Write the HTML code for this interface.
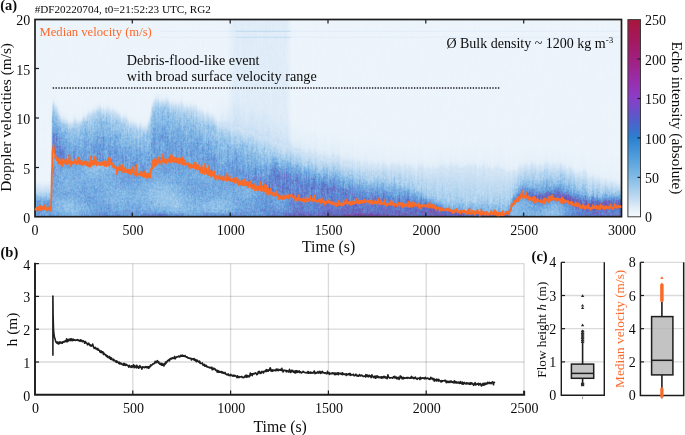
<!DOCTYPE html>
<html><head><meta charset="utf-8"><style>
html,body{margin:0;padding:0;background:#fff;width:685px;height:435px;overflow:hidden}
#sp{position:absolute;left:35px;top:19px;width:587px;height:198px;background:linear-gradient(to bottom,#ecf4fb 0%,#e4eef9 42%,#b4d2ef 66%,#86b2e6 82%,#6e96dc 100%)}
svg{position:absolute;left:0;top:0}
text{font-family:"Liberation Serif",serif}
</style></head><body>
<canvas id="sp" width="587" height="198"></canvas>
<svg width="685" height="435" viewBox="0 0 685 435">
<rect x="35" y="19.5" width="586.5" height="197.2" fill="none" stroke="#1c1c1c" stroke-width="1.7"/>
<line x1="132.3" y1="216.5" x2="132.3" y2="212.5" stroke="#1c1c1c" stroke-width="1.2"/>
<line x1="132.3" y1="19.5" x2="132.3" y2="23.5" stroke="#1c1c1c" stroke-width="1.2"/>
<line x1="230.2" y1="216.5" x2="230.2" y2="212.5" stroke="#1c1c1c" stroke-width="1.2"/>
<line x1="230.2" y1="19.5" x2="230.2" y2="23.5" stroke="#1c1c1c" stroke-width="1.2"/>
<line x1="328" y1="216.5" x2="328" y2="212.5" stroke="#1c1c1c" stroke-width="1.2"/>
<line x1="328" y1="19.5" x2="328" y2="23.5" stroke="#1c1c1c" stroke-width="1.2"/>
<line x1="425.8" y1="216.5" x2="425.8" y2="212.5" stroke="#1c1c1c" stroke-width="1.2"/>
<line x1="425.8" y1="19.5" x2="425.8" y2="23.5" stroke="#1c1c1c" stroke-width="1.2"/>
<line x1="523.7" y1="216.5" x2="523.7" y2="212.5" stroke="#1c1c1c" stroke-width="1.2"/>
<line x1="523.7" y1="19.5" x2="523.7" y2="23.5" stroke="#1c1c1c" stroke-width="1.2"/>
<line x1="35" y1="167.5" x2="39" y2="167.5" stroke="#1c1c1c" stroke-width="1.2"/>
<line x1="35" y1="118" x2="39" y2="118" stroke="#1c1c1c" stroke-width="1.2"/>
<line x1="35" y1="68.5" x2="39" y2="68.5" stroke="#1c1c1c" stroke-width="1.2"/>
<polyline points="35,209.2 35.4,209.6 35.7,208.9 36.1,208.1 36.4,208.6 36.8,208 37.1,209.3 37.5,210.9 37.8,208.6 38.2,206.6 38.5,209.8 38.9,209.6 39.2,209.3 39.6,208 39.9,205.6 40.3,210.1 40.6,207.5 41,208.6 41.3,206.8 41.7,207.6 42,206.9 42.4,208.9 42.7,207.6 43.1,209.5 43.4,209.4 43.8,209 44.1,206.1 44.5,208.5 44.8,209.1 45.2,204.7 45.5,207.3 45.9,208.6 46.2,208 46.6,208.2 46.9,210.5 47.3,208.2 47.6,209.2 48,207.3 48.3,208.5 48.7,208.9 49,209.3 49.4,209.3 49.7,207.7 50.1,209.3 50.4,210.9 50.8,207.3 51.1,206.3 51.5,192.1 51.8,173.4 52.2,167.3 52.5,151.8 52.9,148.1 53.2,148.5 53.6,145.2 53.9,150.6 54.3,151 54.6,153.4 55,155.8 55.3,158.1 55.7,155.9 56,158.3 56.4,158.3 56.7,160.3 57.1,159.2 57.4,160.3 57.8,161.1 58.1,163 58.5,163.5 58.8,159.9 59.2,157.8 59.5,163.3 59.9,159.4 60.2,161.9 60.6,162.4 60.9,164.5 61.3,163.7 61.6,162.1 62,159 62.3,161.6 62.7,166.2 63,161.9 63.4,162.1 63.7,163.1 64.1,162.4 64.4,162.3 64.8,160.9 65.1,162.6 65.5,158.8 65.8,164.4 66.2,163.6 66.5,159.5 66.9,163.6 67.2,162.1 67.6,164.2 67.9,162.6 68.3,163.5 68.6,160.6 69,163.1 69.3,154.8 69.7,159.4 70,162.1 70.4,161.2 70.7,162.9 71.1,166.1 71.4,161.3 71.8,161.6 72.1,162.9 72.5,163.4 72.8,162.3 73.2,162.3 73.5,163.7 73.9,163.4 74.2,159.9 74.6,162.5 74.9,162.7 75.3,161 75.6,163 76,161.3 76.3,164.2 76.7,163 77,162.8 77.4,161.8 77.7,157.4 78.1,159.6 78.4,161 78.8,163.3 79.1,157.8 79.5,164.1 79.8,160.1 80.2,164 80.5,161.5 80.9,164 81.2,163 81.6,160.5 81.9,164.8 82.3,165.1 82.6,162.8 83,162.5 83.3,162.7 83.7,161.4 84,164.6 84.4,162.1 84.7,162.9 85.1,161.7 85.4,162 85.8,161 86.1,165.1 86.5,163.7 86.8,162.9 87.2,165.3 87.5,164.9 87.9,162 88.2,165.9 88.6,166.4 88.9,164.5 89.3,165.1 89.6,163 90,163.5 90.3,166.9 90.7,162.9 91,156.2 91.4,164 91.7,165.7 92.1,161.2 92.4,163.2 92.8,162.5 93.1,160.8 93.5,164.6 93.8,163.5 94.2,163.6 94.5,156.6 94.9,164.2 95.2,162.7 95.6,157.5 95.9,161.8 96.3,163.7 96.6,165.6 97,162.7 97.3,164 97.7,163.4 98,162.8 98.4,162.7 98.7,164.5 99.1,163 99.4,163.3 99.8,163.5 100.1,165.3 100.5,164.6 100.8,164.1 101.2,162.6 101.5,161.4 101.9,165 102.2,165 102.6,163.3 102.9,164.3 103.3,164.7 103.6,160.9 104,164.9 104.3,162.8 104.7,165.8 105,161.6 105.4,164.8 105.7,164.3 106.1,164.9 106.4,166.4 106.8,165.8 107.1,161.7 107.5,160.9 107.8,164.8 108.2,157.9 108.5,163.5 108.9,165.7 109.2,161 109.6,160.2 109.9,163.9 110.3,163.8 110.6,158.5 111,164.5 111.3,163.5 111.7,162.9 112,165.3 112.4,164.4 112.7,163.8 113.1,167.3 113.4,166.7 113.8,167.6 114.1,165.7 114.5,166.5 114.8,166.2 115.2,166.6 115.5,168.5 115.9,167.2 116.2,169.2 116.6,169.4 116.9,174.2 117.3,167.1 117.6,169.5 118,168.5 118.3,169.4 118.7,167.3 119,170 119.4,170.8 119.7,164.7 120.1,169.9 120.4,169.4 120.8,170.1 121.1,169.9 121.5,167.5 121.8,169 122.2,167.1 122.5,165.2 122.9,169.5 123.2,172.4 123.6,170.1 123.9,168.7 124.3,169.1 124.6,171.8 125,170.9 125.3,167 125.7,171.4 126,171 126.4,172.2 126.7,171.9 127.1,171.5 127.4,169.6 127.8,172.1 128.1,170.3 128.5,173.1 128.8,169.5 129.2,171.4 129.5,171.6 129.9,169.7 130.2,174.5 130.6,174.1 130.9,171.2 131.3,173.2 131.6,169.5 132,168.1 132.3,168.1 132.7,172.2 133,172.5 133.4,165.9 133.7,172.1 134.1,172.3 134.4,174.5 134.8,173.3 135.1,172.8 135.5,175.3 135.8,172.2 136.2,172.6 136.5,164.9 136.9,175.9 137.2,175.1 137.6,175.1 137.9,174.9 138.3,174.1 138.6,174.4 139,173.8 139.3,174 139.7,174.5 140,171.6 140.4,175.5 140.7,174.7 141.1,174 141.4,174.1 141.8,172 142.1,176.1 142.5,175.5 142.8,175 143.2,173.9 143.5,175.7 143.9,177.3 144.2,175.4 144.6,175.8 144.9,171.3 145.3,176.5 145.6,173.9 146,173.8 146.3,173.7 146.7,177.9 147,175.4 147.4,177.5 147.7,173.6 148.1,173.7 148.4,175.8 148.8,177 149.1,176.2 149.5,174.1 149.8,175.8 150.2,177.7 150.5,173.6 150.9,169 151.2,168.9 151.6,169.2 151.9,165.7 152.3,165.3 152.6,168.4 153,160.3 153.3,166.9 153.7,167 154,160.3 154.4,164.3 154.7,166 155.1,158.5 155.4,158.2 155.8,160.7 156.1,162.8 156.5,165 156.8,164.1 157.2,161.1 157.5,161.1 157.9,158.6 158.2,162.8 158.6,157.3 158.9,160.2 159.3,162.6 159.6,161.6 160,161.9 160.3,162.3 160.7,161.8 161,161 161.4,164.7 161.7,157.2 162.1,161.7 162.4,159 162.8,157.1 163.1,154.2 163.5,159.2 163.8,162.7 164.2,162.4 164.5,161 164.9,159.3 165.2,160.6 165.6,161.1 165.9,162 166.3,163.5 166.6,161.3 167,159.7 167.3,159.1 167.7,160.8 168,160.6 168.4,159.1 168.7,161 169.1,159 169.4,162.5 169.8,162.2 170.1,162.5 170.5,155.7 170.8,161.5 171.2,160.5 171.5,154.4 171.9,160.1 172.2,158.6 172.6,156.8 172.9,161.8 173.3,160.3 173.6,160.9 174,162.1 174.3,157.9 174.7,159.3 175,160.8 175.4,157.4 175.7,159.9 176.1,162.3 176.4,161.1 176.8,158.9 177.1,159.4 177.5,162.2 177.8,161.7 178.2,158.1 178.5,163.2 178.9,162.1 179.2,163.3 179.6,160.7 179.9,160.9 180.3,158.6 180.6,161.1 181,159.1 181.3,164.2 181.7,162.8 182,162.5 182.4,159.9 182.7,157.3 183.1,164.6 183.4,161.4 183.8,165.2 184.1,164.3 184.5,162.5 184.8,160.2 185.2,163.8 185.5,164.5 185.9,163.9 186.2,163.5 186.6,164.4 186.9,163.4 187.3,163.1 187.6,165.1 188,166.6 188.3,163 188.7,165.4 189,164.5 189.4,164.1 189.7,167 190.1,165 190.4,168.2 190.8,164.7 191.1,166.6 191.5,165.8 191.8,165 192.2,167.2 192.5,166.1 192.9,167.4 193.2,165.7 193.6,165 193.9,166.6 194.3,162.8 194.6,168.4 195,165.6 195.3,167.1 195.7,162.4 196,168.4 196.4,165.9 196.7,164.9 197.1,167.8 197.4,169.8 197.8,165.8 198.1,165.6 198.5,165.3 198.8,166.9 199.2,169.4 199.5,167.7 199.9,168 200.2,172.6 200.6,168.3 200.9,170.3 201.3,168.2 201.6,165.1 202,167.2 202.3,173.1 202.7,169.9 203,170.9 203.4,170.6 203.7,171.1 204.1,171.1 204.4,174.1 204.8,169.7 205.1,163.7 205.5,170.1 205.8,169.8 206.2,168.6 206.5,173.5 206.9,170.9 207.2,170.5 207.6,172.3 207.9,174.8 208.3,168.8 208.6,174.2 209,165.9 209.3,175.4 209.7,172.3 210,170.4 210.4,172 210.7,173 211.1,176.9 211.4,176.2 211.8,170.8 212.1,174 212.5,172.6 212.8,173 213.2,175.8 213.5,175.9 213.9,176 214.2,174.6 214.6,171.4 214.9,178.3 215.3,178.8 215.6,179.9 216,176.9 216.3,176.1 216.7,177.4 217,176.7 217.4,176.6 217.7,177.9 218.1,176.5 218.4,176.5 218.8,178.3 219.1,179 219.5,174.9 219.8,177.8 220.2,177.5 220.5,178.7 220.9,178.3 221.2,179.5 221.6,179.2 221.9,177.1 222.3,179.4 222.6,177.2 223,178.4 223.3,180.4 223.7,176.2 224,179.6 224.4,179.8 224.7,179.3 225.1,179 225.4,179.1 225.8,178.2 226.1,179.3 226.5,177.5 226.8,181.1 227.2,173.4 227.5,179 227.9,180.2 228.2,179 228.6,180 228.9,177.4 229.3,177.6 229.6,175.9 230,180.6 230.3,180.7 230.7,180.9 231,179.4 231.4,180 231.7,179.7 232.1,181.2 232.4,180.9 232.8,179.2 233.1,181.7 233.5,180.9 233.8,181.7 234.2,181.5 234.5,178.9 234.9,182.8 235.2,177.6 235.6,177.7 235.9,177.7 236.3,179.5 236.6,179.9 237,181 237.3,183.3 237.7,181.7 238,179.6 238.4,185.2 238.7,185 239.1,182.5 239.4,182.4 239.8,180.9 240.1,181.9 240.5,183.8 240.8,183.8 241.2,183.5 241.5,185 241.9,182.3 242.2,180.3 242.6,184.9 242.9,184.8 243.3,185.6 243.6,184.7 244,183.1 244.3,184.8 244.7,179.7 245,182 245.4,185.5 245.7,184.6 246.1,185.3 246.4,182.2 246.8,184.4 247.1,184.1 247.5,183.8 247.8,181.8 248.2,184.8 248.5,187.4 248.9,184.5 249.2,184.7 249.6,184.5 249.9,181.1 250.3,181.6 250.6,185.8 251,186.9 251.3,186.7 251.7,188.9 252,188.1 252.4,184.9 252.7,187 253.1,187.9 253.4,186 253.8,186.9 254.1,188.4 254.5,190.1 254.8,187 255.2,183.7 255.5,187.8 255.9,187.3 256.2,187.6 256.6,190 256.9,186.5 257.3,187.8 257.6,187.9 258,189.5 258.3,190 258.7,186.3 259,187.3 259.4,189.3 259.7,187.9 260.1,181.9 260.4,190.6 260.8,190 261.1,190.1 261.5,187.5 261.8,191.1 262.2,187.1 262.5,186.3 262.9,188.6 263.2,188.8 263.6,190.5 263.9,189.3 264.3,191.5 264.6,191 265,184.2 265.3,191 265.7,190.6 266,192.5 266.4,185.5 266.7,190.9 267.1,193.4 267.4,194.9 267.8,194.7 268.1,190 268.5,188.6 268.8,194.5 269.2,192.4 269.5,191.4 269.9,193 270.2,193.6 270.6,188.7 270.9,191 271.3,191.5 271.6,194.5 272,192.7 272.3,193.8 272.7,194.3 273,195 273.4,193.9 273.7,195.1 274.1,193.4 274.4,194.2 274.8,193.4 275.1,196.4 275.5,194 275.8,194.1 276.2,194.8 276.5,195 276.9,191.4 277.2,193.4 277.6,194.3 277.9,195.3 278.3,199.1 278.6,197.2 279,195.9 279.3,197.1 279.7,198.9 280,196.1 280.4,196 280.7,198.2 281.1,197.3 281.4,197.7 281.8,196.3 282.1,199.5 282.5,199.3 282.8,198 283.2,198.2 283.5,194.9 283.9,198.4 284.2,197.4 284.6,198.2 284.9,198.5 285.3,197.1 285.6,195.4 286,197.9 286.3,196.5 286.7,197 287,196.6 287.4,197.4 287.7,194.4 288.1,195.6 288.4,197.4 288.8,198.4 289.1,198.3 289.5,197 289.8,194.8 290.2,195.8 290.5,195.4 290.9,196.2 291.2,195.8 291.6,194.4 291.9,197.4 292.3,195.3 292.6,197 293,197.3 293.3,197.2 293.7,197.6 294,197.2 294.4,197.3 294.7,196.2 295.1,199 295.4,200.5 295.8,200.8 296.1,200.2 296.5,199.6 296.8,198.2 297.2,200.8 297.5,199.2 297.9,199.3 298.2,195.1 298.6,199.8 298.9,199.4 299.3,199.3 299.6,198.9 300,199.9 300.3,198.9 300.7,200.2 301,200 301.4,200.9 301.7,200.3 302.1,199 302.4,200 302.8,201.2 303.1,199.1 303.5,200.3 303.8,201.9 304.2,199.5 304.5,200.3 304.9,199.6 305.2,201.8 305.6,197.2 305.9,199.4 306.3,199.6 306.6,200.8 307,200.8 307.3,201.6 307.7,198.5 308,200.9 308.4,199.8 308.7,199.4 309.1,200.6 309.4,199.1 309.8,197.9 310.1,195.8 310.5,198.5 310.8,199.4 311.2,200.4 311.5,200.3 311.9,201.6 312.2,199.8 312.6,198.5 312.9,199.4 313.3,199.3 313.6,199.1 314,200.8 314.3,199.4 314.7,195.3 315,201.2 315.4,200.5 315.7,201 316.1,200.8 316.4,201.4 316.8,200.9 317.1,202.1 317.5,201.4 317.8,201.4 318.2,201.5 318.5,199.8 318.9,201.1 319.2,201.1 319.6,201.6 319.9,200.2 320.3,203.1 320.6,201.7 321,200.6 321.3,199.1 321.7,198.1 322,201.8 322.4,201.3 322.7,202.1 323.1,201.5 323.4,200 323.8,201.6 324.1,202.3 324.5,203.3 324.8,204.8 325.2,201.5 325.5,202.1 325.9,201.8 326.2,203.3 326.6,201.6 326.9,202.3 327.3,201.8 327.6,200 328,201.9 328.3,202.4 328.7,200.4 329,201.6 329.4,202.6 329.7,203.2 330.1,202.9 330.4,201.5 330.8,202.8 331.1,204 331.5,203.8 331.8,201.8 332.2,202.6 332.5,204 332.9,202.9 333.2,202.4 333.6,202.8 333.9,205 334.3,203.9 334.6,204.8 335,203.3 335.3,204.7 335.7,203.3 336,203.7 336.4,206.2 336.7,204.7 337.1,203.5 337.4,203.9 337.8,204.2 338.1,205.4 338.5,200.9 338.8,202.2 339.2,203.5 339.5,203.8 339.9,203.8 340.2,204.9 340.6,203.9 340.9,204.4 341.3,202.6 341.6,204.4 342,205.5 342.3,204.2 342.7,203.7 343,203.6 343.4,205.1 343.7,200.4 344.1,203.2 344.4,203.7 344.8,204 345.1,202.8 345.5,203.5 345.8,201.9 346.2,203.2 346.5,199.6 346.9,202 347.2,203 347.6,203.8 347.9,202.1 348.3,202.7 348.6,203.5 349,201.9 349.3,203 349.7,201.4 350,203.9 350.4,204.9 350.7,204.7 351.1,202.5 351.4,202.2 351.8,204.2 352.1,203.6 352.5,204.1 352.8,201.4 353.2,203.6 353.5,202.5 353.9,203.9 354.2,202.7 354.6,201.9 354.9,202.7 355.3,203.1 355.6,202.4 356,202.8 356.3,200.5 356.7,198.9 357,201.2 357.4,202.9 357.7,202.4 358.1,202.3 358.4,203.2 358.8,201.8 359.1,200.3 359.5,202 359.8,203.2 360.2,200.8 360.5,203.2 360.9,201.4 361.2,201 361.6,202.2 361.9,201.9 362.3,200.7 362.6,201.6 363,202.7 363.3,203 363.7,201.4 364,199.3 364.4,202.4 364.7,201.1 365.1,201.1 365.4,201.7 365.8,201.2 366.1,201.2 366.5,201.7 366.8,201.6 367.2,201 367.5,201.1 367.9,202.5 368.2,200.5 368.6,200.6 368.9,202.7 369.3,202.2 369.6,202.9 370,201 370.3,202.6 370.7,201.6 371,201 371.4,203.6 371.7,200.2 372.1,200.9 372.4,202.7 372.8,203.8 373.1,201.8 373.5,202.2 373.8,202.8 374.2,203 374.5,202.4 374.9,201.9 375.2,200.4 375.6,203.2 375.9,201.7 376.3,203.6 376.6,202.5 377,202 377.3,203.2 377.7,201.1 378,202.1 378.4,198.5 378.7,201.7 379.1,202 379.4,204.1 379.8,203 380.1,204.2 380.5,201.6 380.8,200.3 381.2,203.9 381.5,204.4 381.9,203.2 382.2,203.3 382.6,203.4 382.9,203.7 383.3,202.8 383.6,203.9 384,203.4 384.3,204.3 384.7,200.1 385,204.3 385.4,204.3 385.7,203.6 386.1,206 386.4,204.5 386.8,205.8 387.1,205.1 387.5,203.7 387.8,204 388.2,204.8 388.5,204.5 388.9,204.5 389.2,204.2 389.6,202.8 389.9,204.3 390.3,202.5 390.6,204.9 391,203.9 391.3,200.5 391.7,204.4 392,204.9 392.4,202.4 392.7,203 393.1,203.7 393.4,202.8 393.8,203.8 394.1,206.2 394.5,203.8 394.8,205.4 395.2,203.5 395.5,205.1 395.9,204.5 396.2,204.8 396.6,205.4 396.9,206.5 397.3,204.4 397.6,205 398,204 398.3,202.6 398.7,203.6 399,204.9 399.4,204.9 399.7,206.3 400.1,203.2 400.4,204.7 400.8,203.6 401.1,204.7 401.5,204.3 401.8,202.5 402.2,203.8 402.5,205.2 402.9,207.4 403.2,206.2 403.6,204.1 403.9,204.4 404.3,204.8 404.6,206.1 405,204.5 405.3,204.6 405.7,206.1 406,206.1 406.4,204.9 406.7,204.3 407.1,203.9 407.4,204.7 407.8,203.3 408.1,206.1 408.5,201.6 408.8,205.8 409.2,207.2 409.5,206.5 409.9,204.4 410.2,206.3 410.6,206.6 410.9,202.7 411.3,204.6 411.6,205.4 412,204 412.3,206.9 412.7,203.3 413,203 413.4,201.8 413.7,205.4 414.1,206 414.4,205.9 414.8,203 415.1,203.2 415.5,203.7 415.8,205.7 416.2,205 416.5,205.8 416.9,205.9 417.2,204.8 417.6,205.1 417.9,204 418.3,203.5 418.6,205.1 419,207.6 419.3,205.4 419.7,204.4 420,206.1 420.4,208.1 420.7,206.5 421.1,206 421.4,205.6 421.8,204.9 422.1,205.7 422.5,205.3 422.8,206.6 423.2,205.5 423.5,205.5 423.9,204.8 424.2,205.9 424.6,205.1 424.9,205.8 425.3,206.9 425.6,206.3 426,206.4 426.3,206.3 426.7,205.1 427,206.5 427.4,205.5 427.7,206.7 428.1,205 428.4,207.3 428.8,206.1 429.1,205.4 429.5,202.3 429.8,205.5 430.2,206.3 430.5,205.6 430.9,207.4 431.2,205.7 431.6,204.5 431.9,206 432.3,204.9 432.6,206.8 433,208 433.3,207.7 433.7,206 434,206.6 434.4,205.5 434.7,207.8 435.1,207.6 435.4,208.7 435.8,210.1 436.1,207 436.5,208.2 436.8,208.5 437.2,208.3 437.5,207.8 437.9,207.5 438.2,208.6 438.6,207.8 438.9,208.7 439.3,209 439.6,211.2 440,207.8 440.3,209.1 440.7,209.1 441,208.2 441.4,210.5 441.7,209.2 442.1,209 442.4,208.3 442.8,209.1 443.1,210.5 443.5,208.8 443.8,209.3 444.2,210 444.5,210.4 444.9,210.1 445.2,209.9 445.6,209.9 445.9,209.1 446.3,209.5 446.6,209.7 447,208.6 447.3,210.3 447.7,210.9 448,210.4 448.4,210 448.7,210.7 449.1,207.9 449.4,210.8 449.8,209.1 450.1,210.8 450.5,210.1 450.8,210.5 451.2,211 451.5,211.6 451.9,211.9 452.2,210.7 452.6,212.8 452.9,212.3 453.3,212.3 453.6,212.6 454,210 454.3,212.4 454.7,212.1 455,210.1 455.4,211.6 455.7,211 456.1,210.1 456.4,209.9 456.8,208.8 457.1,209.4 457.5,212.5 457.8,212.6 458.2,211.6 458.5,211.6 458.9,211 459.2,212.2 459.6,211.6 459.9,212.5 460.3,213.6 460.6,212 461,210.6 461.3,211.3 461.7,210.7 462,211 462.4,211.9 462.7,212.4 463.1,210.8 463.4,212.9 463.8,210.4 464.1,212 464.5,210.4 464.8,212.1 465.2,212.7 465.5,213.1 465.9,214 466.2,213.7 466.6,212.6 466.9,211.2 467.3,213.3 467.6,211.3 468,212.7 468.3,213.1 468.7,209.5 469,213.7 469.4,212.6 469.7,208.9 470.1,214.3 470.4,213.6 470.8,213.2 471.1,213.9 471.5,214 471.8,212.7 472.2,210.7 472.5,212.4 472.9,212.6 473.2,212.1 473.6,213.2 473.9,214.1 474.3,212.6 474.6,211.3 475,214.9 475.3,212.6 475.7,211.9 476,211.6 476.4,213.4 476.7,212.4 477.1,210.3 477.4,212.6 477.8,210 478.1,213.2 478.5,211.5 478.8,212.5 479.2,212.2 479.5,213 479.9,215.6 480.2,212.4 480.6,214.4 480.9,213 481.3,209.4 481.6,213.8 482,213.9 482.3,214.3 482.7,213.6 483,211.9 483.4,212.6 483.7,213.6 484.1,213.6 484.4,214.4 484.8,213.5 485.1,212.1 485.5,214.6 485.8,213.4 486.2,211.8 486.5,212.1 486.9,211.9 487.2,214.8 487.6,212.5 487.9,214.5 488.3,213.9 488.6,214.9 489,214.3 489.3,213.3 489.7,213.2 490,213.5 490.4,213.6 490.7,213 491.1,211 491.4,215 491.8,211.9 492.1,213.8 492.5,212.7 492.8,213.8 493.2,214.4 493.5,213.6 493.9,211.4 494.2,212.2 494.6,214.7 494.9,210.2 495.3,214.3 495.6,213.9 496,211.4 496.3,213.1 496.7,214 497,215.3 497.4,214.1 497.7,214.1 498.1,212.6 498.4,213.8 498.8,215.6 499.1,213 499.5,213.7 499.8,212.5 500.2,214.8 500.5,213 500.9,214.7 501.2,215.2 501.6,214.6 501.9,213.2 502.3,215.3 502.6,211 503,213.9 503.3,214.4 503.7,215 504,214.6 504.4,214.6 504.7,213.5 505.1,213.1 505.4,214.3 505.8,213.6 506.1,211.9 506.5,212.8 506.8,213.3 507.2,211.9 507.5,212.2 507.9,211.8 508.2,213.3 508.6,213.3 508.9,214.6 509.3,211.2 509.6,211.4 510,211.5 510.3,210 510.7,209.1 511,210.3 511.4,204.4 511.7,205.7 512.1,204.7 512.4,205.9 512.8,205.4 513.1,203.5 513.5,203.5 513.8,201.4 514.2,204.1 514.5,200.5 514.9,203.4 515.2,202.9 515.6,200.4 515.9,201.3 516.3,201.6 516.6,200.3 517,198.5 517.3,199.8 517.7,200.4 518,200.8 518.4,197 518.7,201.2 519.1,197.5 519.4,199.1 519.8,199.1 520.1,198.6 520.5,197.6 520.8,194.7 521.2,195.1 521.5,195.9 521.9,190.4 522.2,196.6 522.6,193.6 522.9,197.6 523.3,195.2 523.6,197.6 524,197.8 524.3,197.9 524.7,196.6 525,195.6 525.4,196.7 525.7,195 526.1,192.4 526.4,197.4 526.8,196.5 527.1,197.4 527.5,197.6 527.8,199.7 528.2,196.5 528.5,199.1 528.9,199.5 529.2,196 529.6,198.3 529.9,199.7 530.3,197.8 530.6,198.9 531,198.1 531.3,199.6 531.7,201.1 532,198.4 532.4,200.1 532.7,199.2 533.1,199 533.4,196.5 533.8,201.6 534.1,202.6 534.5,200.9 534.8,196.9 535.2,197.8 535.5,200.4 535.9,201 536.2,200.8 536.6,201.3 536.9,201.7 537.3,198.4 537.6,200.9 538,199.8 538.3,201.2 538.7,200.3 539,201.5 539.4,200.9 539.7,201.9 540.1,202.1 540.4,200.3 540.8,200.8 541.1,200.6 541.5,202.1 541.8,203 542.2,202.1 542.5,201.7 542.9,202.5 543.2,199.7 543.6,202.5 543.9,200.4 544.3,198.3 544.6,203.3 545,202.3 545.3,199.8 545.7,200.8 546,200.4 546.4,200.6 546.7,199.1 547.1,199.8 547.4,200.8 547.8,200.5 548.1,201.3 548.5,200.2 548.8,202.3 549.2,196.4 549.5,200.2 549.9,198.1 550.2,198.7 550.6,200.7 550.9,196.6 551.3,199.2 551.6,199.5 552,194.9 552.3,199.1 552.7,198.9 553,197.6 553.4,200 553.7,199.8 554.1,198.6 554.4,198.2 554.8,199.3 555.1,198.8 555.5,199.8 555.8,201.3 556.2,199.5 556.5,198.7 556.9,198.7 557.2,198.1 557.6,198.2 557.9,199.4 558.3,198.9 558.6,199 559,200.2 559.3,199.2 559.7,199.5 560,198.6 560.4,201.4 560.7,200.5 561.1,202.9 561.4,200.6 561.8,201.7 562.1,197.4 562.5,201.2 562.8,203.1 563.2,198.5 563.5,201.9 563.9,202.5 564.2,199.9 564.6,201.9 564.9,202.4 565.3,200.7 565.6,201.8 566,200.7 566.3,201 566.7,201.2 567,201.7 567.4,201.7 567.7,201.3 568.1,200.8 568.4,203.7 568.8,203.5 569.1,203.2 569.5,202.3 569.8,202.7 570.2,203.4 570.5,203.4 570.9,201.6 571.2,204 571.6,205.3 571.9,201.8 572.3,202.5 572.6,203.1 573,203.8 573.3,205.3 573.7,204 574,204.4 574.4,205.8 574.7,204.4 575.1,204.3 575.4,204.9 575.8,202.1 576.1,203.3 576.5,204.3 576.8,206.1 577.2,204.9 577.5,206.2 577.9,203.5 578.2,203.3 578.6,205.9 578.9,205 579.3,205.6 579.6,207.8 580,205.3 580.3,205.5 580.7,208 581,206.8 581.4,208.2 581.7,207.1 582.1,205.9 582.4,206.8 582.8,208 583.1,204.3 583.5,206.2 583.8,207 584.2,206.9 584.5,206.5 584.9,209 585.2,207.2 585.6,206.1 585.9,206.8 586.3,208 586.6,207.9 587,207.2 587.3,205.5 587.7,207.5 588,205.9 588.4,204.4 588.7,208.3 589.1,207.1 589.4,208 589.8,208.8 590.1,208.3 590.5,207.8 590.8,209.8 591.2,208.5 591.5,207.6 591.9,208.6 592.2,208.4 592.6,205 592.9,208.1 593.3,207.9 593.6,206.3 594,208 594.3,207.9 594.7,207.8 595,206.7 595.4,207.9 595.7,207 596.1,208.3 596.4,205.6 596.8,208.8 597.1,207 597.5,208 597.8,207.2 598.2,207.5 598.5,206 598.9,209.1 599.2,207.7 599.6,207.8 599.9,207.3 600.3,209 600.6,204.4 601,207.2 601.3,205.6 601.7,206.9 602,207.1 602.4,207.1 602.7,208.2 603.1,206 603.4,208 603.8,208.3 604.1,207.2 604.5,208 604.8,209.4 605.2,206 605.5,207.2 605.9,207.7 606.2,206.9 606.6,206.2 606.9,208.5 607.3,206.9 607.6,207.5 608,208.7 608.3,207.2 608.7,207.8 609,206.6 609.4,206.8 609.7,207.1 610.1,208.1 610.4,207.1 610.8,204.4 611.1,206.9 611.5,207.3 611.8,208 612.2,207.5 612.5,209.2 612.9,207.5 613.2,208.6 613.6,207.5 613.9,207.8 614.3,205.8 614.6,204.1 615,204.7 615.3,206.9 615.7,205.1 616,207.9 616.4,206.6 616.7,206.6 617.1,206.7 617.4,206.7 617.8,207.3 618.1,205.7 618.5,206 618.8,207.4 619.2,206.9 619.5,206.4 619.9,206.2 620.2,205.9 620.6,206.6 620.9,207.7" fill="none" stroke="#fa6a28" stroke-width="1.7" stroke-linejoin="round"/>
<line x1="236" y1="31.3" x2="291" y2="31.3" stroke="#8fbce8" stroke-opacity="0.26" stroke-width="1.2"/>
<line x1="236" y1="37.3" x2="291" y2="37.3" stroke="#8fbce8" stroke-opacity="0.2" stroke-width="1.2"/>
<line x1="160" y1="31.3" x2="620" y2="31.3" stroke="#8fbce8" stroke-opacity="0.1" stroke-width="1.2"/>
<line x1="160" y1="37.3" x2="620" y2="37.3" stroke="#8fbce8" stroke-opacity="0.08" stroke-width="1.2"/>
<line x1="52.7" y1="88" x2="500" y2="88" stroke="#1a1a1a" stroke-width="1.3" stroke-dasharray="1.4 1.4"/>
<defs><linearGradient id="cb" x1="0" y1="1" x2="0" y2="0">
<stop offset="0" stop-color="#f5f9fd"/><stop offset="0.04" stop-color="#e4eff9"/><stop offset="0.1" stop-color="#bed9f1"/><stop offset="0.2" stop-color="#82bbe6"/>
<stop offset="0.3" stop-color="#529edc"/><stop offset="0.4" stop-color="#2a80d0"/><stop offset="0.46" stop-color="#4468cc"/><stop offset="0.52" stop-color="#6254c8"/>
<stop offset="0.6" stop-color="#8a3ec8"/><stop offset="0.7" stop-color="#9a2ca8"/><stop offset="0.8" stop-color="#a0207e"/><stop offset="0.9" stop-color="#a4185c"/><stop offset="1" stop-color="#a8163c"/>
</linearGradient></defs>
<rect x="627.9" y="19.6" width="12.6" height="197.2" fill="url(#cb)" stroke="#3a3a3a" stroke-width="1"/>
<line x1="640.5" y1="177.4" x2="637.5" y2="177.4" stroke="#1c1c1c" stroke-width="1.2"/>
<line x1="640.5" y1="137.9" x2="637.5" y2="137.9" stroke="#1c1c1c" stroke-width="1.2"/>
<line x1="640.5" y1="98.5" x2="637.5" y2="98.5" stroke="#1c1c1c" stroke-width="1.2"/>
<line x1="640.5" y1="59" x2="637.5" y2="59" stroke="#1c1c1c" stroke-width="1.2"/>
<line x1="132.8" y1="263.6" x2="132.8" y2="394.8" stroke="#262626" stroke-opacity="0.17" stroke-width="1.3"/>
<line x1="230.6" y1="263.6" x2="230.6" y2="394.8" stroke="#262626" stroke-opacity="0.17" stroke-width="1.3"/>
<line x1="328.4" y1="263.6" x2="328.4" y2="394.8" stroke="#262626" stroke-opacity="0.17" stroke-width="1.3"/>
<line x1="426.2" y1="263.6" x2="426.2" y2="394.8" stroke="#262626" stroke-opacity="0.17" stroke-width="1.3"/>
<line x1="524" y1="263.6" x2="524" y2="394.8" stroke="#262626" stroke-opacity="0.17" stroke-width="1.3"/>
<line x1="35" y1="362" x2="524" y2="362" stroke="#262626" stroke-opacity="0.17" stroke-width="1.3"/>
<line x1="35" y1="329.2" x2="524" y2="329.2" stroke="#262626" stroke-opacity="0.17" stroke-width="1.3"/>
<line x1="35" y1="296.4" x2="524" y2="296.4" stroke="#262626" stroke-opacity="0.17" stroke-width="1.3"/>
<line x1="35" y1="263.6" x2="524" y2="263.6" stroke="#262626" stroke-opacity="0.17" stroke-width="1.3"/>
<polyline points="35,262.8 35,394.7 524.2,394.7 524.2,391" fill="none" stroke="#1c1c1c" stroke-width="1.9"/>
<line x1="132.8" y1="394.5" x2="132.8" y2="390.5" stroke="#1c1c1c" stroke-width="1.2"/>
<line x1="230.6" y1="394.5" x2="230.6" y2="390.5" stroke="#1c1c1c" stroke-width="1.2"/>
<line x1="328.4" y1="394.5" x2="328.4" y2="390.5" stroke="#1c1c1c" stroke-width="1.2"/>
<line x1="426.2" y1="394.5" x2="426.2" y2="390.5" stroke="#1c1c1c" stroke-width="1.2"/>
<line x1="524" y1="394.5" x2="524" y2="390.5" stroke="#1c1c1c" stroke-width="1.2"/>
<line x1="35" y1="362" x2="39" y2="362" stroke="#1c1c1c" stroke-width="1.2"/>
<line x1="35" y1="329.2" x2="39" y2="329.2" stroke="#1c1c1c" stroke-width="1.2"/>
<line x1="35" y1="296.4" x2="39" y2="296.4" stroke="#1c1c1c" stroke-width="1.2"/>
<line x1="35" y1="263.6" x2="39" y2="263.6" stroke="#1c1c1c" stroke-width="1.2"/>
<polyline points="52.9,355.8 52.9,296 53.1,314.9 53.5,329.1 53.9,333.5 54.3,336.2 54.7,338.2 55.1,339 55.5,340.7 55.9,341.9 56.3,342.5 56.7,342.9 57.1,341.9 57.5,343.5 57.9,342.2 58.3,342.7 58.7,344 59.1,342.3 59.5,343.5 59.9,341.9 60.3,342.8 60.7,342.3 61.1,343 61.5,342.4 61.9,343.2 62.3,343.3 62.7,341.7 63.1,342.1 63.5,342.2 63.9,341.5 64.3,341.4 64.7,341.9 65.1,341.6 65.5,340.6 65.9,341.1 66.3,341.6 66.7,338.7 67.1,340.4 67.5,341.7 67.9,341.4 68.3,339.5 68.7,339.6 69.1,340.6 69.5,339.7 69.9,339 70.3,340 70.7,340.6 71.1,338.7 71.5,338.9 71.9,339.4 72.3,340.7 72.7,340 73.1,339 73.5,340.3 73.9,340.4 74.3,339.8 74.7,339.7 75.1,340.1 75.5,340.5 75.9,340 76.3,340.3 76.7,340 77.1,339.9 77.5,339.6 77.9,340.4 78.3,340.1 78.7,340.2 79.1,341 79.5,340.8 79.9,341.1 80.3,339.7 80.7,341.1 81.1,340.4 81.5,340.4 81.9,340.4 82.3,341.7 82.7,341.7 83.1,341 83.5,340.9 83.9,341.8 84.3,341.7 84.7,343.2 85.1,341.5 85.5,341.5 85.9,342.6 86.3,343 86.7,343.1 87.1,343.9 87.5,344.8 87.9,343.6 88.3,343.7 88.7,343.1 89.1,344.5 89.5,345.1 89.9,344.6 90.3,345.7 90.7,345.2 91.1,346.3 91.5,345.8 91.9,345.2 92.3,345.7 92.7,344.1 93.1,345.5 93.5,347 93.9,347.6 94.3,348.5 94.7,347.5 95.1,347.7 95.5,347.4 95.9,348.9 96.3,348.8 96.7,348.5 97.1,349.5 97.5,349.7 97.9,348.4 98.3,350.3 98.7,350.1 99.1,350.1 99.5,350.3 99.9,351.9 100.3,352 100.7,352.4 101.1,350.9 101.5,351.5 101.9,352.7 102.3,351.8 102.7,352.4 103.1,352 103.5,354.5 103.9,353 104.3,354.3 104.7,354.4 105.1,354.3 105.5,354.7 105.9,355.6 106.3,355.1 106.7,356.5 107.1,355.8 107.5,355.9 107.9,357.5 108.3,356.9 108.7,357.6 109.1,357.4 109.5,356.5 109.9,358.5 110.3,357.6 110.7,359.3 111.1,357.9 111.5,358 111.9,359.5 112.3,359.8 112.7,359.8 113.1,359.2 113.5,360.7 113.9,359.5 114.3,360.4 114.7,360.4 115.1,360.9 115.5,361.8 115.9,361.1 116.3,360.8 116.7,362.4 117.1,361.2 117.5,361.7 117.9,362.4 118.3,362.5 118.7,363.3 119.1,362.1 119.5,363.8 119.9,364 120.3,363.5 120.7,362.9 121.1,363.8 121.5,363.6 121.9,364.4 122.3,364.1 122.7,364.7 123.1,364.1 123.5,365.3 123.9,363.2 124.3,364 124.7,365.1 125.1,364 125.5,365.4 125.9,364.3 126.3,365.2 126.7,364.7 127.1,365.1 127.5,365.6 127.9,365.5 128.3,365.5 128.7,367.1 129.1,365.9 129.5,365.4 129.9,366.7 130.3,366.7 130.7,367 131.1,367.4 131.5,365.8 131.9,367.1 132.3,367.1 132.7,365.8 133.1,366.7 133.5,364.8 133.9,366.3 134.3,367.7 134.7,365.6 135.1,366.4 135.5,366.9 135.9,367.2 136.3,367.8 136.7,365.2 137.1,366.9 137.5,367.5 137.9,366.2 138.3,367 138.7,368.2 139.1,367.9 139.5,367.5 139.9,365.6 140.3,367.1 140.7,367.5 141.1,367.1 141.5,367.3 141.9,369.2 142.3,367.3 142.7,366.8 143.1,367.5 143.5,367.1 143.9,367.1 144.3,367.2 144.7,367.7 145.1,367.4 145.5,366.5 145.9,367.1 146.3,367.4 146.7,366.9 147.1,367.8 147.5,367.6 147.9,366.5 148.3,367.2 148.7,368.2 149.1,367.9 149.5,366.6 149.9,366.9 150.3,365.6 150.7,364.9 151.1,365.8 151.5,365.3 151.9,365.1 152.3,364.5 152.7,364.4 153.1,363.6 153.5,363.9 153.9,363.8 154.3,363 154.7,363.2 155.1,361.4 155.5,361.7 155.9,362.7 156.3,362.6 156.7,361.4 157.1,361 157.5,360.7 157.9,362.1 158.3,362.8 158.7,361.8 159.1,363.4 159.5,363.8 159.9,364.2 160.3,363.4 160.7,364.4 161.1,363.3 161.5,365.2 161.9,364.4 162.3,363.7 162.7,365.3 163.1,365.2 163.5,364.2 163.9,366 164.3,363.8 164.7,364.2 165.1,364.4 165.5,362 165.9,363.5 166.3,362.5 166.7,362.2 167.1,361.2 167.5,361.7 167.9,360.4 168.3,360.2 168.7,360.2 169.1,359.5 169.5,360.9 169.9,358.9 170.3,358.9 170.7,358.9 171.1,358.1 171.5,359 171.9,358.8 172.3,358 172.7,357.8 173.1,358 173.5,358.4 173.9,358.2 174.3,357.4 174.7,356.4 175.1,358.9 175.5,358.1 175.9,357.6 176.3,357.5 176.7,356.9 177.1,356.6 177.5,356.9 177.9,356.8 178.3,356.6 178.7,356 179.1,356.6 179.5,357 179.9,356.3 180.3,356.6 180.7,355.2 181.1,355.9 181.5,356.2 181.9,355.5 182.3,355.1 182.7,356.3 183.1,355.5 183.5,356.2 183.9,355.8 184.3,356.5 184.7,356.1 185.1,355.5 185.5,356.5 185.9,356.5 186.3,357.2 186.7,356.7 187.1,356.8 187.5,357.7 187.9,358 188.3,357.9 188.7,358.2 189.1,358 189.5,358.3 189.9,358.5 190.3,358.3 190.7,358.2 191.1,358.4 191.5,360 191.9,358.8 192.3,358.8 192.7,358.9 193.1,359.3 193.5,359.7 193.9,358.5 194.3,358.8 194.7,360.3 195.1,359.4 195.5,360.7 195.9,359.7 196.3,361.7 196.7,360.2 197.1,360.1 197.5,361.2 197.9,361.1 198.3,361.5 198.7,362.2 199.1,361.1 199.5,362.6 199.9,361.6 200.3,363.4 200.7,363 201.1,363.5 201.5,363.2 201.9,363.5 202.3,362.9 202.7,364.3 203.1,365.3 203.5,364.7 203.9,365 204.3,364.4 204.7,366.1 205.1,365 205.5,366.1 205.9,365.9 206.3,365.4 206.7,366.8 207.1,366.4 207.5,366.7 207.9,367.1 208.3,367 208.7,367 209.1,367.7 209.5,367.4 209.9,367.9 210.3,367.6 210.7,367.3 211.1,368 211.5,368.3 211.9,367.3 212.3,369.8 212.7,368.2 213.1,369.5 213.5,368.2 213.9,369 214.3,368.5 214.7,368.6 215.1,369 215.5,370.3 215.9,370.4 216.3,370.4 216.7,370.1 217.1,372 217.5,370.8 217.9,370.5 218.3,372.2 218.7,371.7 219.1,371.2 219.5,372.3 219.9,371.8 220.3,372.2 220.7,372.1 221.1,371.5 221.5,372.8 221.9,372.5 222.3,371.9 222.7,372.2 223.1,373.3 223.5,372.7 223.9,373.1 224.3,373.5 224.7,373.3 225.1,372.4 225.5,373.8 225.9,374.1 226.3,374.2 226.7,374.7 227.1,374.1 227.5,374.5 227.9,375 228.3,374 228.7,375.4 229.1,375.5 229.5,375 229.9,375.7 230.3,375.2 230.7,374.3 231.1,375.6 231.5,375.3 231.9,375.4 232.3,375.4 232.7,376.2 233.1,375.8 233.5,375.2 233.9,376 234.3,376.2 234.7,375.4 235.1,375.8 235.5,375.9 235.9,375.9 236.3,376.5 236.7,377.1 237.1,377.7 237.5,375.8 237.9,377.2 238.3,377.4 238.7,377.5 239.1,376.6 239.5,377.3 239.9,377.1 240.3,376.9 240.7,376.7 241.1,376.8 241.5,377 241.9,376.4 242.3,377.5 242.7,377.3 243.1,377.4 243.5,377.6 243.9,377.7 244.3,376.8 244.7,376.9 245.1,375.9 245.5,375.4 245.9,375.4 246.3,377.3 246.7,375.2 247.1,376.4 247.5,376.9 247.9,375.6 248.3,376.7 248.7,376.7 249.1,376 249.5,376.7 249.9,375.5 250.3,373 250.7,375.2 251.1,374.5 251.5,373.8 251.9,373.7 252.3,375.7 252.7,373.9 253.1,374.1 253.5,373.6 253.9,374 254.3,373.7 254.7,373.5 255.1,373 255.5,372.8 255.9,373.1 256.3,373.6 256.7,374.6 257.1,373.9 257.5,374.3 257.9,373.4 258.3,371.5 258.7,372.1 259.1,372.8 259.5,371.4 259.9,372.5 260.3,373.5 260.7,372.7 261.1,373.1 261.5,372.1 261.9,371.4 262.3,371.8 262.7,371.8 263.1,372.7 263.5,373 263.9,371.3 264.3,371.4 264.7,371.5 265.1,371.3 265.5,370.6 265.9,371.4 266.3,369.6 266.7,371.4 267.1,370.3 267.5,370.9 267.9,369.8 268.3,371.3 268.7,370.1 269.1,370.4 269.5,370.2 269.9,368.3 270.3,367.8 270.7,369.1 271.1,371.2 271.5,370.2 271.9,370.1 272.3,371.2 272.7,369.9 273.1,370.3 273.5,370 273.9,370.8 274.3,370.4 274.7,370.3 275.1,370 275.5,370.3 275.9,370.9 276.3,369 276.7,370.2 277.1,370 277.5,370.1 277.9,369.1 278.3,370.8 278.7,369.9 279.1,370.3 279.5,370.1 279.9,369.5 280.3,370.2 280.7,369.4 281.1,370 281.5,370.4 281.9,368.4 282.3,370.7 282.7,370.6 283.1,372 283.5,371 283.9,370 284.3,370.4 284.7,370.4 285.1,370.7 285.5,370.5 285.9,370.4 286.3,371.9 286.7,371 287.1,370.8 287.5,370.9 287.9,370.9 288.3,371.9 288.7,371.4 289.1,371.8 289.5,369.3 289.9,371.4 290.3,371.9 290.7,372.5 291.1,371.3 291.5,370.3 291.9,371.7 292.3,371 292.7,370.4 293.1,371.1 293.5,372.1 293.9,372.2 294.3,372 294.7,371 295.1,373.1 295.5,370.9 295.9,371.6 296.3,370.8 296.7,372.5 297.1,370.7 297.5,372.3 297.9,371.9 298.3,371.8 298.7,372 299.1,370.8 299.5,372.5 299.9,372.5 300.3,371.8 300.7,372 301.1,372.3 301.5,373 301.9,372.4 302.3,372.2 302.7,371.9 303.1,371.3 303.5,371.9 303.9,372.3 304.3,372.2 304.7,372.4 305.1,372.8 305.5,372.7 305.9,372.6 306.3,372.9 306.7,372.6 307.1,372.5 307.5,372.8 307.9,371.5 308.3,373.3 308.7,371.8 309.1,373 309.5,372.5 309.9,373.2 310.3,372.5 310.7,372 311.1,373.2 311.5,372.6 311.9,372.6 312.3,372.6 312.7,373.1 313.1,373 313.5,372.7 313.9,371.6 314.3,371 314.7,372.6 315.1,373.6 315.5,372.8 315.9,372.5 316.3,373.2 316.7,372.5 317.1,372.5 317.5,372.6 317.9,371.6 318.3,373.1 318.7,372.8 319.1,372.4 319.5,371.8 319.9,371.3 320.3,373.4 320.7,372.2 321.1,372 321.5,372.9 321.9,371.8 322.3,371.4 322.7,372.6 323.1,372.5 323.5,372.7 323.9,372.6 324.3,373.2 324.7,372.9 325.1,372.7 325.5,372.9 325.9,373 326.3,373.8 326.7,373.8 327.1,373.7 327.5,371.4 327.9,372.8 328.3,373.3 328.7,373.6 329.1,372.6 329.5,374.4 329.9,373.8 330.3,373.3 330.7,373.7 331.1,373.4 331.5,373.2 331.9,373.9 332.3,373.4 332.7,372.8 333.1,373.3 333.5,373.6 333.9,373 334.3,374.4 334.7,373 335.1,374.7 335.5,374.2 335.9,373.1 336.3,373.7 336.7,374.3 337.1,373.5 337.5,372.9 337.9,373.7 338.3,374.8 338.7,372.7 339.1,374 339.5,373.6 339.9,373.6 340.3,373.4 340.7,373.4 341.1,374.3 341.5,374 341.9,373 342.3,374.6 342.7,372.9 343.1,374.1 343.5,373.9 343.9,374.5 344.3,374.1 344.7,374.5 345.1,373.9 345.5,374.6 345.9,374.2 346.3,375.4 346.7,373.7 347.1,374.9 347.5,374.5 347.9,374.4 348.3,374 348.7,374.6 349.1,373.5 349.5,373.6 349.9,374.9 350.3,373.6 350.7,375.4 351.1,374.5 351.5,374.8 351.9,374.8 352.3,375 352.7,374.6 353.1,374.6 353.5,374.2 353.9,375.6 354.3,375.7 354.7,375.8 355.1,375.3 355.5,375 355.9,374.2 356.3,375.6 356.7,375.8 357.1,375.1 357.5,375.8 357.9,376.2 358.3,375.5 358.7,376.1 359.1,375.7 359.5,374.5 359.9,375.4 360.3,375.4 360.7,376 361.1,375.2 361.5,375.5 361.9,375.2 362.3,375.8 362.7,375.9 363.1,376.5 363.5,376.4 363.9,376 364.3,376.1 364.7,376.1 365.1,376.1 365.5,377 365.9,374.6 366.3,376 366.7,376.3 367.1,374.9 367.5,375.6 367.9,376.5 368.3,376.8 368.7,376 369.1,375.2 369.5,376.2 369.9,375.7 370.3,376.8 370.7,376 371.1,377.6 371.5,376.6 371.9,374.8 372.3,376.3 372.7,376 373.1,376.9 373.5,377.6 373.9,376.6 374.3,377.3 374.7,376.2 375.1,377 375.5,378.2 375.9,376 376.3,377.6 376.7,377.6 377.1,375.8 377.5,376.1 377.9,376.4 378.3,377.6 378.7,376.8 379.1,377 379.5,377.6 379.9,377.2 380.3,377.3 380.7,377 381.1,377.9 381.5,376.8 381.9,378.3 382.3,377.2 382.7,376.9 383.1,377.8 383.5,377.7 383.9,376.3 384.3,377.6 384.7,376.7 385.1,377 385.5,378 385.9,377 386.3,377.7 386.7,377.3 387.1,378.7 387.5,377.5 387.9,374.7 388.3,376.9 388.7,377 389.1,377.7 389.5,377.6 389.9,378.2 390.3,377.7 390.7,377.7 391.1,377.8 391.5,377.6 391.9,377.8 392.3,378.1 392.7,378.1 393.1,377.4 393.5,376.6 393.9,377.2 394.3,377.9 394.7,376.2 395.1,377.5 395.5,378 395.9,377.4 396.3,377.1 396.7,378.8 397.1,378.6 397.5,377.6 397.9,378.6 398.3,378.6 398.7,377.2 399.1,379.4 399.5,377.3 399.9,377.2 400.3,375.9 400.7,377.9 401.1,377.1 401.5,376.6 401.9,378.6 402.3,378 402.7,377.8 403.1,378.9 403.5,377.4 403.9,378.5 404.3,377.8 404.7,378.1 405.1,378 405.5,378.1 405.9,378 406.3,377.5 406.7,377.7 407.1,378.3 407.5,378 407.9,377.4 408.3,377.6 408.7,377.7 409.1,378.1 409.5,378.2 409.9,378.2 410.3,377.7 410.7,378.1 411.1,377.3 411.5,376.4 411.9,378.1 412.3,377.2 412.7,377.6 413.1,377.5 413.5,378.6 413.9,377.5 414.3,378.4 414.7,377.9 415.1,377.5 415.5,377.2 415.9,378.5 416.3,378.5 416.7,378.7 417.1,379.4 417.5,378.4 417.9,378.5 418.3,378.2 418.7,378.4 419.1,378.1 419.5,377.8 419.9,379.5 420.3,377.2 420.7,378.5 421.1,378.6 421.5,378.5 421.9,377.8 422.3,378.3 422.7,378.1 423.1,377.8 423.5,378.4 423.9,378.2 424.3,378.1 424.7,378.9 425.1,377.8 425.5,377.3 425.9,378.1 426.3,378.7 426.7,378.5 427.1,378.6 427.5,378 427.9,378.2 428.3,378.2 428.7,378.8 429.1,379.3 429.5,379.5 429.9,378.6 430.3,379.1 430.7,377.3 431.1,377.8 431.5,378.7 431.9,378.9 432.3,378.4 432.7,378.3 433.1,379.8 433.5,379 433.9,378.6 434.3,381.1 434.7,379.8 435.1,379.6 435.5,380.3 435.9,379.5 436.3,380.9 436.7,379.1 437.1,379.3 437.5,380.1 437.9,379.8 438.3,381.2 438.7,379.4 439.1,380 439.5,380.6 439.9,380.9 440.3,381.2 440.7,380.9 441.1,382.1 441.5,380.5 441.9,381 442.3,381.5 442.7,380.8 443.1,380.9 443.5,380.8 443.9,380.7 444.3,380.5 444.7,380.9 445.1,380.3 445.5,381.5 445.9,380.4 446.3,382.6 446.7,382.5 447.1,382.2 447.5,381.4 447.9,381.2 448.3,382.4 448.7,381.8 449.1,382.1 449.5,381.3 449.9,382.5 450.3,381.4 450.7,382 451.1,380.9 451.5,381.6 451.9,382.3 452.3,381.8 452.7,381.9 453.1,382.7 453.5,382.2 453.9,383 454.3,380.9 454.7,382.7 455.1,382.7 455.5,381.5 455.9,381.7 456.3,383.1 456.7,382 457.1,382.2 457.5,383 457.9,382.5 458.3,383 458.7,382.2 459.1,383 459.5,383.5 459.9,383.1 460.3,381.6 460.7,383.3 461.1,383 461.5,382.4 461.9,383.9 462.3,382 462.7,384.2 463.1,382.7 463.5,384.1 463.9,383.2 464.3,382.4 464.7,383.3 465.1,383.5 465.5,383.6 465.9,384 466.3,382.8 466.7,382.8 467.1,383.9 467.5,383.3 467.9,383 468.3,383 468.7,384 469.1,384.1 469.5,383.1 469.9,382.9 470.3,384.4 470.7,382.8 471.1,383.9 471.5,383.3 471.9,382.8 472.3,383.9 472.7,383.8 473.1,384.4 473.5,385.3 473.9,383.9 474.3,384.6 474.7,384.7 475.1,382.5 475.5,383.6 475.9,385.1 476.3,384 476.7,384.2 477.1,384.1 477.5,384.2 477.9,383.9 478.3,383.3 478.7,385.1 479.1,384.2 479.5,383.6 479.9,384.5 480.3,383.6 480.7,384.1 481.1,385.3 481.5,386 481.9,384.8 482.3,384 482.7,385.1 483.1,383.2 483.5,384 483.9,385.3 484.3,384.7 484.7,383.3 485.1,383.1 485.5,384.5 485.9,383.8 486.3,383.4 486.7,383.9 487.1,383.2 487.5,382.3 487.9,383.8 488.3,382.8 488.7,382.6 489.1,382.3 489.5,383.3 489.9,382.6 490.3,383.5 490.7,382.9 491.1,383.7 491.5,382.8 491.9,382.6 492.3,381.8 492.7,382.3 493.1,383.4 493.5,384.8 493.9,382.2 494.3,382.3 494.7,383.1" fill="none" stroke="#1e1e1e" stroke-width="1.6" stroke-linejoin="round"/>
<line x1="561.3" y1="361.9" x2="604.3" y2="361.9" stroke="#262626" stroke-opacity="0.17" stroke-width="1.3"/>
<line x1="561.3" y1="328.7" x2="604.3" y2="328.7" stroke="#262626" stroke-opacity="0.17" stroke-width="1.3"/>
<line x1="561.3" y1="295.5" x2="604.3" y2="295.5" stroke="#262626" stroke-opacity="0.17" stroke-width="1.3"/>
<line x1="561.3" y1="262.3" x2="604.3" y2="262.3" stroke="#262626" stroke-opacity="0.17" stroke-width="1.3"/>
<line x1="640.4" y1="361.9" x2="683.7" y2="361.9" stroke="#262626" stroke-opacity="0.17" stroke-width="1.3"/>
<line x1="640.4" y1="328.7" x2="683.7" y2="328.7" stroke="#262626" stroke-opacity="0.17" stroke-width="1.3"/>
<line x1="640.4" y1="295.5" x2="683.7" y2="295.5" stroke="#262626" stroke-opacity="0.17" stroke-width="1.3"/>
<line x1="640.4" y1="262.3" x2="683.7" y2="262.3" stroke="#262626" stroke-opacity="0.17" stroke-width="1.3"/>
<polyline points="561.3,262.3 561.3,395.3 604.3,395.3 604.3,262.3" fill="none" stroke="#1c1c1c" stroke-width="1.4"/>
<line x1="561.3" y1="361.9" x2="565" y2="361.9" stroke="#1c1c1c" stroke-width="1.2"/>
<line x1="561.3" y1="328.7" x2="565" y2="328.7" stroke="#1c1c1c" stroke-width="1.2"/>
<line x1="561.3" y1="295.5" x2="565" y2="295.5" stroke="#1c1c1c" stroke-width="1.2"/>
<line x1="561.3" y1="262.3" x2="565" y2="262.3" stroke="#1c1c1c" stroke-width="1.2"/>
<line x1="582.6" y1="330" x2="582.6" y2="364" stroke="#1e1e1e" stroke-width="1.6"/>
<line x1="582.6" y1="378" x2="582.6" y2="385" stroke="#1e1e1e" stroke-width="1.6"/>
<rect x="571.4" y="364.1" width="22.3" height="14.2" fill="#b8b8b8" fill-opacity="0.85" stroke="#1e1e1e" stroke-width="1.5"/>
<line x1="571.4" y1="373.4" x2="593.7" y2="373.4" stroke="#1e1e1e" stroke-width="1.5"/>
<path d="M580.9,296.9 L582.6,294.2 L584.3000000000001,296.9Z" fill="#2a2a2a"/>
<path d="M580.9,306.59999999999997 L582.6,303.9 L584.3000000000001,306.59999999999997Z" fill="#2a2a2a"/>
<path d="M580.9,309.09999999999997 L582.6,306.4 L584.3000000000001,309.09999999999997Z" fill="#2a2a2a"/>
<path d="M580.9,326.2 L582.6,323.5 L584.3000000000001,326.2Z" fill="#2a2a2a"/>
<path d="M580.9,331.5 L582.6,329.6 L584.3000000000001,331.5Z" fill="#2a2a2a"/>
<line x1="582.6" y1="331" x2="582.6" y2="343.3" stroke="#2e2e2e" stroke-width="3.3" stroke-dasharray="1.6 0.5"/>
<line x1="582.6" y1="382.7" x2="582.6" y2="386.2" stroke="#2e2e2e" stroke-width="3.3"/>
<line x1="582.6" y1="396.5" x2="582.6" y2="399.2" stroke="#999" stroke-width="1"/>
<polyline points="640.4,262.3 640.4,395.5 683.7,395.5 683.7,262.3" fill="none" stroke="#1c1c1c" stroke-width="1.5"/>
<line x1="640.4" y1="361.9" x2="644" y2="361.9" stroke="#1c1c1c" stroke-width="1.2"/>
<line x1="640.4" y1="328.7" x2="644" y2="328.7" stroke="#1c1c1c" stroke-width="1.2"/>
<line x1="640.4" y1="295.5" x2="644" y2="295.5" stroke="#1c1c1c" stroke-width="1.2"/>
<line x1="640.4" y1="262.3" x2="644" y2="262.3" stroke="#1c1c1c" stroke-width="1.2"/>
<line x1="661.9" y1="301.6" x2="661.9" y2="316.6" stroke="#1e1e1e" stroke-width="1.6"/>
<line x1="661.9" y1="374.9" x2="661.9" y2="389" stroke="#1e1e1e" stroke-width="1.6"/>
<rect x="651.6" y="316.6" width="21.3" height="58.3" fill="#b4b4b4" fill-opacity="0.8" stroke="#1e1e1e" stroke-width="1.5"/>
<line x1="651.6" y1="360.3" x2="672.9" y2="360.3" stroke="#1e1e1e" stroke-width="1.5"/>
<path d="M660.1,285 L661.9,282.6 L663.6999999999999,285Z" fill="#fa6a28"/>
<line x1="661.9" y1="284.5" x2="661.9" y2="301.6" stroke="#fa6a28" stroke-width="3.5"/>
<path d="M660.1999999999999,279 L661.9,276.3 L663.6,279Z" fill="#fa6a28"/>
<line x1="661.9" y1="389" x2="661.9" y2="396.5" stroke="#fa6a28" stroke-width="3.3" stroke-linecap="round"/>
<line x1="661.9" y1="396.5" x2="661.9" y2="399.2" stroke="#999" stroke-width="1"/>
<g font-family="Liberation Serif, serif" fill="#0c0c0c"><text x="0.2" y="9.9" font-size="14.5" text-anchor="start" font-weight="bold">(a)</text>
<text x="34.7" y="13.3" font-size="11.15" text-anchor="start" >#DF20220704, t0=21:52:23 UTC, RG2</text>
<text x="39.5" y="36.2" font-size="12.65" text-anchor="start" fill="#fa6a2c">Median velocity (m/s)</text>
<text x="126.8" y="64.9" font-size="14.2" text-anchor="start" >Debris-flood-like event</text>
<text x="126.8" y="80.7" font-size="14.2" text-anchor="start" >with broad surface velocity range</text>
<text x="446.4" y="47.5" font-size="14" text-anchor="start" >&#216; Bulk density ~ 1200 kg m<tspan font-size="9" dy="-5">-3</tspan></text>
<text x="30.2" y="223" font-size="14" text-anchor="end" >0</text>
<text x="30.2" y="173.5" font-size="14" text-anchor="end" >5</text>
<text x="30.2" y="124" font-size="14" text-anchor="end" >10</text>
<text x="30.2" y="74.5" font-size="14" text-anchor="end" >15</text>
<text x="30.2" y="25" font-size="14" text-anchor="end" >20</text>
<text x="35.1" y="234.6" font-size="14" text-anchor="middle" >0</text>
<text x="132.9" y="234.6" font-size="14" text-anchor="middle" >500</text>
<text x="230.8" y="234.6" font-size="14" text-anchor="middle" >1000</text>
<text x="328.6" y="234.6" font-size="14" text-anchor="middle" >1500</text>
<text x="426.4" y="234.6" font-size="14" text-anchor="middle" >2000</text>
<text x="524.3" y="234.6" font-size="14" text-anchor="middle" >2500</text>
<text x="622.1" y="234.6" font-size="14" text-anchor="middle" >3000</text>
<text x="328.6" y="252" font-size="15.7" text-anchor="middle" >Time (s)</text>
<text transform="translate(11.2,117.4) rotate(-90)" font-size="15.3" text-anchor="middle">Doppler velocities (m/s)</text>
<text x="645" y="222.4" font-size="14" text-anchor="start" >0</text>
<text x="645" y="183" font-size="14" text-anchor="start" >50</text>
<text x="645" y="143.5" font-size="14" text-anchor="start" >100</text>
<text x="645" y="104.1" font-size="14" text-anchor="start" >150</text>
<text x="645" y="64.6" font-size="14" text-anchor="start" >200</text>
<text x="645" y="25.2" font-size="14" text-anchor="start" >250</text>
<text transform="translate(671.6,118) rotate(90)" font-size="15.3" text-anchor="middle">Echo intensity (absolute)</text>
<text x="0.5" y="257.3" font-size="14.5" text-anchor="start" font-weight="bold">(b)</text>
<text x="30.2" y="400.7" font-size="14" text-anchor="end" >0</text>
<text x="30.2" y="367.9" font-size="14" text-anchor="end" >1</text>
<text x="30.2" y="335.1" font-size="14" text-anchor="end" >2</text>
<text x="30.2" y="302.3" font-size="14" text-anchor="end" >3</text>
<text x="30.2" y="269.5" font-size="14" text-anchor="end" >4</text>
<text x="35.6" y="413.4" font-size="14" text-anchor="middle" >0</text>
<text x="133.4" y="413.4" font-size="14" text-anchor="middle" >500</text>
<text x="231.2" y="413.4" font-size="14" text-anchor="middle" >1000</text>
<text x="329" y="413.4" font-size="14" text-anchor="middle" >1500</text>
<text x="426.8" y="413.4" font-size="14" text-anchor="middle" >2000</text>
<text x="524.6" y="413.4" font-size="14" text-anchor="middle" >2500</text>
<text x="280.2" y="432.2" font-size="15.8" text-anchor="middle" >Time (s)</text>
<text transform="translate(17.1,329.5) rotate(-90)" font-size="15.4" text-anchor="middle">h (m)</text>
<text x="531.6" y="261.3" font-size="14.5" text-anchor="start" font-weight="bold">(c)</text>
<text x="556.3" y="400.1" font-size="14" text-anchor="end" >0</text>
<text x="556.3" y="366.9" font-size="14" text-anchor="end" >1</text>
<text x="556.3" y="333.7" font-size="14" text-anchor="end" >2</text>
<text x="556.3" y="300.5" font-size="14" text-anchor="end" >3</text>
<text x="556.3" y="267.3" font-size="14" text-anchor="end" >4</text>
<text x="635.7" y="400.1" font-size="14" text-anchor="end" >0</text>
<text x="635.7" y="366.9" font-size="14" text-anchor="end" >2</text>
<text x="635.7" y="333.7" font-size="14" text-anchor="end" >4</text>
<text x="635.7" y="300.5" font-size="14" text-anchor="end" >6</text>
<text x="635.7" y="267.3" font-size="14" text-anchor="end" >8</text>
<text transform="translate(545.6,329.7) rotate(-90)" font-size="13.25" text-anchor="middle">Flow height <tspan font-style="italic">h</tspan> (m)</text>
<text transform="translate(624.4,328.85) rotate(-90)" font-size="13.3" text-anchor="middle" fill="#fa6a2c">Median velocity (m/s)</text></g>
</svg>
<script>
const MED=[[35, 209.2], [51, 209.2], [51.5, 190], [52.2, 160], [53, 147.6], [55, 155], [57, 161], [60, 162.6], [75, 162.6], [86, 163], [88, 167], [91, 163.5], [110, 163.5], [112.7, 166.3], [117, 169.2], [125, 170.7], [135, 172.8], [145, 176.3], [148.7, 176.8], [150.5, 174], [151.7, 168], [154.6, 163], [160, 162], [166, 161], [175, 160.5], [181, 161.5], [185, 164.5], [195, 167], [205, 171.4], [213, 175.8], [220, 179], [232, 180.5], [245, 184.5], [252.8, 186.6], [263.3, 190.1], [273.8, 194.5], [284.3, 197.7], [291.3, 196.7], [300, 200.3], [312.3, 200], [324.6, 202.4], [336.8, 204], [347.6, 203], [368, 201.5], [389, 204.5], [411, 205.5], [430, 206.1], [444, 210.3], [458, 211.7], [470, 213], [484, 213.1], [505.8, 214.3], [509.4, 212.5], [512, 206], [517.8, 199.5], [522.5, 195.8], [527, 197.5], [532.3, 199.9], [539.5, 201.8], [556.4, 198.7], [568.4, 202.3], [580.5, 206.6], [595, 208.3], [609.4, 207.6], [621, 206.6]];const TT=[[35, 205], [51.4, 205], [52.2, 112], [52.9, 100.5], [56, 106], [62.5, 121.5], [71.3, 121.5], [80, 119.5], [90.5, 112.5], [99.3, 107.5], [108, 111], [118.6, 114.5], [127.3, 119.8], [136, 125], [146.6, 127.7], [150, 118], [152.5, 104], [155.3, 97.9], [164, 100.5], [175.8, 103], [191.5, 108], [207.3, 114], [215, 118], [218, 124], [240, 128], [270, 140], [300, 152], [330, 160], [360, 166], [400, 168], [430, 170], [450, 168], [500, 170], [508, 172], [515, 174], [522, 167], [560, 167], [580, 174], [600, 182], [621, 184]];const UU=[[35, 205], [51.4, 205], [52.2, 120], [52.9, 108], [56, 115], [62.5, 128], [71.3, 128], [80, 126], [90.5, 120], [99.3, 116], [108, 119], [118.6, 122], [127.3, 127], [136, 132], [146.6, 135], [150, 126], [152.5, 112], [155.3, 106], [164, 108], [175.8, 112], [191.5, 118], [207.3, 124], [215, 127], [218, 134], [240, 142], [270, 154], [300, 164], [330, 170], [360, 180], [400, 184], [430, 196], [450, 210], [480, 212], [505, 214], [512, 198], [522, 180], [560, 179], [575, 184], [590, 192], [621, 194]];
(function(){
const cv=document.getElementById('sp');const ctx=cv.getContext('2d');
const W=587,H=198,X0=35,Y0=19;
const img=ctx.createImageData(W,H);const d=img.data;
let s=987654321;function rnd(){s^=s<<13;s^=s>>>17;s^=s<<5;return ((s>>>0)%1000003)/1000003;}
function gau(){return (rnd()+rnd()+rnd()+rnd()-2)*1.732;}
function itp(a,x){if(x<=a[0][0])return a[0][1];for(let i=1;i<a.length;i++){if(x<=a[i][0]){const t=(x-a[i-1][0])/(a[i][0]-a[i-1][0]);return a[i-1][1]+t*(a[i][1]-a[i-1][1]);}}return a[a.length-1][1];}
const CM=[[0,245,249,253],[10,228,239,249],[25,190,217,241],[50,130,187,230],[75,82,158,220],[100,42,128,208],[115,68,104,204],[130,98,84,200],[150,138,62,200],[175,154,44,168],[200,160,32,126],[225,164,24,92],[250,168,22,60]];
const LUT=new Float32Array(251*3);for(let v=0;v<=250;v++){for(let i=1;i<CM.length;i++){if(v<=CM[i][0]){const a=CM[i-1],b=CM[i],t=(v-a[0])/(b[0]-a[0]);for(let k=0;k<3;k++)LUT[v*3+k]=a[k+1]+t*(b[k+1]-a[k+1]);break;}}}
const A=[[35,72],[220,72],[260,86],[290,98],[425,98],[450,62],[505,62],[512,80],[621,80]];
const B=[[35,62],[150,62],[220,64],[280,72],[300,100],[320,110],[505,110],[512,50],[560,56],[580,88],[621,92]];
const CB=[[35,14],[300,14],[505,10],[512,0],[560,0],[580,10],[621,10]];
const MB=[[35,0],[420,0],[445,18],[505,18],[512,5],[530,30],[545,50],[621,50]];
const HZ=[[35,0],[212,0],[222,7],[330,7],[380,4],[500,4],[520,3],[621,3]];const NE=2,CV=0.25,CW=0.97,LS=0.45,KX=0.12,KY=0.15,SH=2.5,HF=3;
const col=new Float32Array(W);let cs=0;for(let i=0;i<W;i++){cs=0.5*cs+0.5*gau();col[i]=cs;}
function patch(x,y){return 0.6*Math.sin(x*0.061+Math.sin(y*0.043)*2.1)*Math.sin(y*0.083+x*0.017+1.3)+0.5*Math.sin(x*0.13+y*0.05+Math.sin(x*0.021)*3)*Math.sin(y*0.11-x*0.04);}
function lite(x,y){let r=0;const L=[[190,202,40,14,18],[63,205,12,9,14],[118,200,14,10,8],[300,180,20,12,0]];for(const q of L){const dx=(x-q[0])/q[2],dy=(y-q[1])/q[3];r+=q[4]*Math.exp(-(dx*dx+dy*dy));}return r;}
function mean(px,py,ci){
  const m=itp(MED,px);
  const bx=px<234?Math.max(0,1-(234-px)/8):(px>287?Math.max(0,1-(px-287)/5):1);
  let bg=5+6.5*bx*(py<150?1:Math.max(0,1-(py-150)/30));
  if(px<51.4){return bg+18*Math.max(0,Math.min(1,(py-180)/12))+52*Math.max(0,Math.min(1,(py-192)/12))-8*Math.max(0,Math.min(1,(py-211)/4));}
  const sh=col[ci]*SH;
  const T=itp(TT,px)-sh,U=itp(UU,px)-sh*0.6,a=itp(A,px);
  let v;
  if(py<T){v=bg+(16-bg)*Math.exp(-(T-py)/HF)+itp(HZ,px)*Math.max(0,1-(T-py)/30);}
  else if(py<U){const f=(py-T)/(U-T);v=16+(38-16)*f;}
  else if(py<m){const D=Math.min(px>270&&px<440?18:32,(m-U)*0.8);const f=Math.min(1,(py-U)/Math.max(D,1));v=38+(a-38)*f;}
  else{v=itp(B,px)+itp(CB,px)*Math.max(0,Math.min(1,(py-209)/6))+15*patch(px,py)-lite(px,py);}
  v+=itp(MB,px)*Math.exp(-((py-m+3)/6)*((py-m+3)/6));
  if(px>51.4&&px<80&&py<m){const dx=(px-56)/8,dy=(py-148)/22;v+=30*Math.exp(-dx*dx-dy*dy);}
  if(py>213.3&&px<470)v+=40*Math.max(0,Math.sin(px*0.09)+Math.sin(px*0.037+1))*0.5;
  return v;
}
const R=new Float32Array(W*H),G=new Float32Array(W*H),Bc=new Float32Array(W*H);
const MC=new Float32Array(W);for(let i=0;i<W;i++)MC[i]=itp(MED,X0+i+0.5);
const VN=new Float32Array(W*H);const rho=0.88,rs=Math.sqrt(1-rho*rho);
for(let i=0;i<W;i++){let x=gau();for(let j=0;j<H;j++){x=rho*x+rs*gau();VN[j*W+i]=x;}}
for(let j=0;j<H;j++){
 for(let i=0;i<W;i++){const px=X0+i,py=Y0+j;
  let r=0,g=0,b=0;
  for(let q=0;q<4;q++){
   const sx=px+0.25+0.5*(q&1),sy=py+0.25+0.5*(q>>1);
   const mv=mean(sx,sy,i);
   for(let e=0;e<NE;e++){
   const cvv=py<MC[i]?CV:0.08;const nz=cvv*VN[j*W+i]+Math.sqrt(1-cvv*cvv)*gau();
   let v;
   if(mv<20){v=mv+0.2*mv*nz;}else{const s=LS*Math.min(1,(mv-14)/20);v=mv*Math.exp(s*nz-s*s/2);}
   v=Math.max(0,Math.min(250,Math.round(v)));
   r+=LUT[v*3];g+=LUT[v*3+1];b+=LUT[v*3+2];
   }
  }
  const k=j*W+i;R[k]=r/(4*NE);G[k]=g/(4*NE);Bc[k]=b/(4*NE);
 }}
function blur(A){const T=new Float32Array(W*H);
 for(let j=0;j<H;j++)for(let i=0;i<W;i++){const k=j*W+i;const l=i>0?A[k-1]:A[k],r=i<W-1?A[k+1]:A[k];T[k]=KX*l+(1-2*KX)*A[k]+KX*r;}
 for(let j=0;j<H;j++)for(let i=0;i<W;i++){const k=j*W+i;const u=j>0?T[k-W]:T[k],dn=j<H-1?T[k+W]:T[k];A[k]=KY*u+(1-2*KY)*T[k]+KY*dn;}}
blur(R);blur(G);blur(Bc);
for(let k=0;k<W*H;k++){d[4*k]=R[k];d[4*k+1]=G[k];d[4*k+2]=Bc[k];d[4*k+3]=255;}
ctx.putImageData(img,0,0);
})();

</script>
</body></html>
